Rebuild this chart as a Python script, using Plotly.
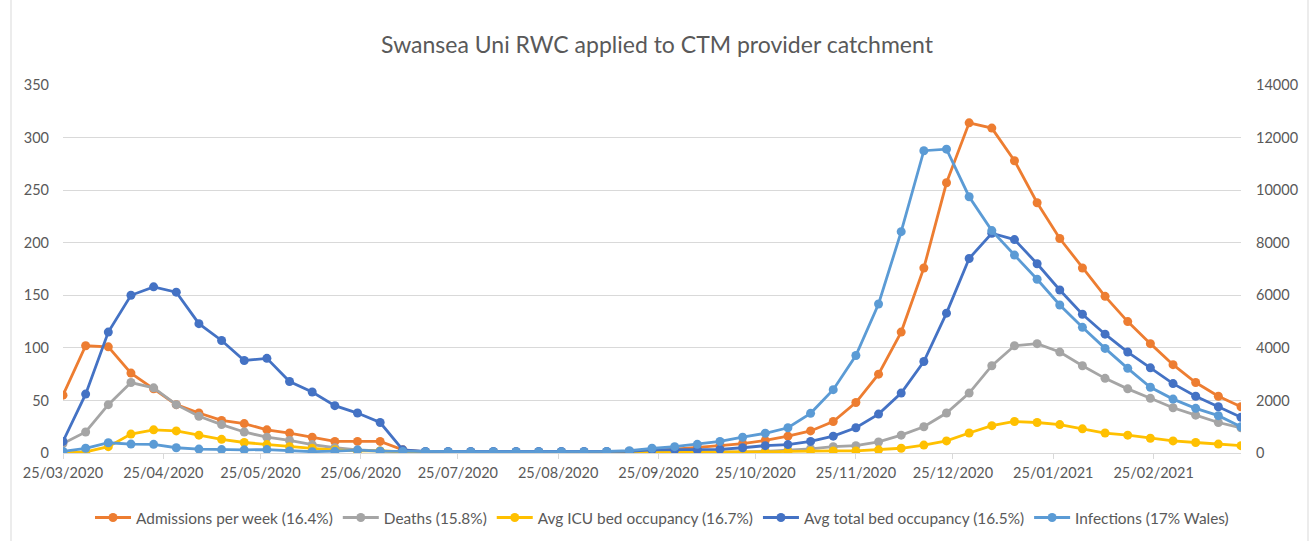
import pandas as pd
import plotly.graph_objects as go
from plotly.subplots import make_subplots

# Weekly dates starting 25/03/2020 (53 weeks)
weeks = pd.date_range("2020-03-25", periods=53, freq="7D")

admissions = [55, 102, 101, 76, 61, 46, 38, 31, 28, 22, 19, 15, 11, 11, 11, 3, 1,
              1, 1, 1, 1, 1, 1, 1, 1, 1.5, 2, 3.5, 5, 7, 9, 12, 16, 21, 30, 48, 75,
              115, 176, 257, 314, 309, 278, 238, 204, 176, 149, 125, 104, 84, 67, 54, 44]
deaths = [9, 20, 46, 67, 62, 46, 35, 27, 20, 15, 12, 8, 5, 3, 2, 1, 1,
          0.5, 0.5, 0.5, 0.5, 0.5, 0.5, 0.5, 0.5, 0.5, 0.5, 0.5, 1, 1, 1, 1.5, 2.5, 4, 6, 7, 10.5,
          17, 25, 38, 57, 83, 102, 104, 96, 83, 71, 61, 52, 43, 36, 29, 24]
icu = [0, 1, 6, 18, 22, 21, 17, 13, 10, 8, 6, 4.5, 3, 2, 2, 1, 0.5,
       0.5, 0.5, 0.5, 0.5, 0.5, 0.5, 0.5, 0.5, 0.5, 0.5, 0.5, 0.5, 0.5, 0.5, 1, 1.5, 2, 2, 2, 3,
       4.5, 7.5, 11.5, 19, 26, 30, 29, 27, 23, 19, 17, 14, 11.5, 10, 8.5, 7]
total_bed = [11, 56, 115, 150, 158, 153, 123, 107, 88, 90, 68, 58, 45, 38, 29, 3, 1.5,
             1.5, 1.5, 1.5, 1.5, 1.5, 1.5, 1.5, 1.5, 1.5, 3, 3, 3, 3.5, 5, 7, 8, 11, 16, 24, 37,
             57, 87, 133, 185, 209, 203, 180, 155, 132, 113, 96, 81, 66, 54, 44, 34]
infections = [60, 180, 390, 340, 330, 200, 150, 130, 120, 130, 80, 50, 70, 110, 70, 60, 50,
              50, 50, 50, 50, 50, 50, 50, 60, 90, 180, 240, 330, 440, 600, 750, 960, 1510, 2410, 3710, 5670,
              8420, 11500, 11560, 9750, 8460, 7530, 6610, 5630, 4780, 3980, 3220, 2500, 2050, 1700, 1420, 1000]

series_names = ["Admissions per week (16.4%)", "Deaths (15.8%)", "Avg ICU bed occupancy (16.7%)",
                "Avg total bed occupancy (16.5%)", "Infections (17% Wales)"]
colors = ["#ED7D31", "#A5A5A5", "#FFC000", "#4472C4", "#5B9BD5"]

tick_dates = ["2020-03-25", "2020-04-25", "2020-05-25", "2020-06-25", "2020-07-25", "2020-08-25",
              "2020-09-25", "2020-10-25", "2020-11-25", "2020-12-25", "2021-01-25", "2021-02-25"]
tick_labels = ["25/03/2020", "25/04/2020", "25/05/2020", "25/06/2020", "25/07/2020", "25/08/2020",
               "25/09/2020", "25/10/2020", "25/11/2020", "25/12/2020", "25/01/2021", "25/02/2021"]

FONT = "Lato, Liberation Sans, sans-serif"
TXT = "#595959"

fig = make_subplots(specs=[[{"secondary_y": True}]])
data = [admissions, deaths, icu, total_bed, infections]
for i, (name, vals, col) in enumerate(zip(series_names, data, colors)):
    fig.add_trace(go.Scatter(x=weeks, y=vals, name=name, mode="lines+markers",
                             line=dict(color=col, width=2.8),
                             marker=dict(color=col, size=9, symbol="circle")),
                  secondary_y=(i == 4))

fig.update_layout(
    width=1314, height=541,
    margin=dict(l=63, r=73, t=85, b=88),
    paper_bgcolor="white", plot_bgcolor="white",
    font=dict(family=FONT, size=14, color=TXT),
    title=dict(text="Swansea Uni RWC applied to CTM provider catchment", x=0.5, xanchor="center",
               y=1 - 45 / 541, yanchor="middle", font=dict(family=FONT, size=23, color=TXT)),
    legend=dict(orientation="h", x=0.5085, xanchor="center", yref="container", y=1 - 518 / 541,
                yanchor="middle", font=dict(family=FONT, size=15.4, color=TXT), itemwidth=36,
                traceorder="normal"),
    showlegend=True,
)
fig.update_xaxes(type="date", domain=[0, 1], range=["2020-03-25", "2021-03-24"], tickvals=tick_dates,
                 ticktext=tick_labels, showgrid=False, showline=True, linecolor="#D9D9D9",
                 linewidth=1, ticks="outside", ticklen=5, tickcolor="#D9D9D9",
                 tickfont=dict(family=FONT, size=14.5, color=TXT), ticklabelstandoff=2, zeroline=False)
fig.update_yaxes(range=[0, 350], dtick=50, showgrid=True, gridcolor="#D9D9D9", zeroline=False,
                 showline=False, tickfont=dict(family=FONT, size=14.5, color=TXT), ticks="",
                 ticklabelstandoff=13, secondary_y=False)
fig.update_yaxes(range=[0, 14000], dtick=2000, tickformat="d", showgrid=False, zeroline=False,
                 showline=False, tickfont=dict(family=FONT, size=14.5, color=TXT), ticks="",
                 ticklabelstandoff=14, secondary_y=True)

# chart frame (left and right edges)
for xp in [(11 - 63) / 1178, (1308 - 63) / 1178]:
    fig.add_shape(type="line", xref="paper", yref="paper", x0=xp, x1=xp, y0=-0.3, y1=1.3,
                  line=dict(color="#D9D9D9", width=1))

fig.write_html("out.html", post_script="document.body.style.margin='0';",
               config={"displayModeBar": False})
